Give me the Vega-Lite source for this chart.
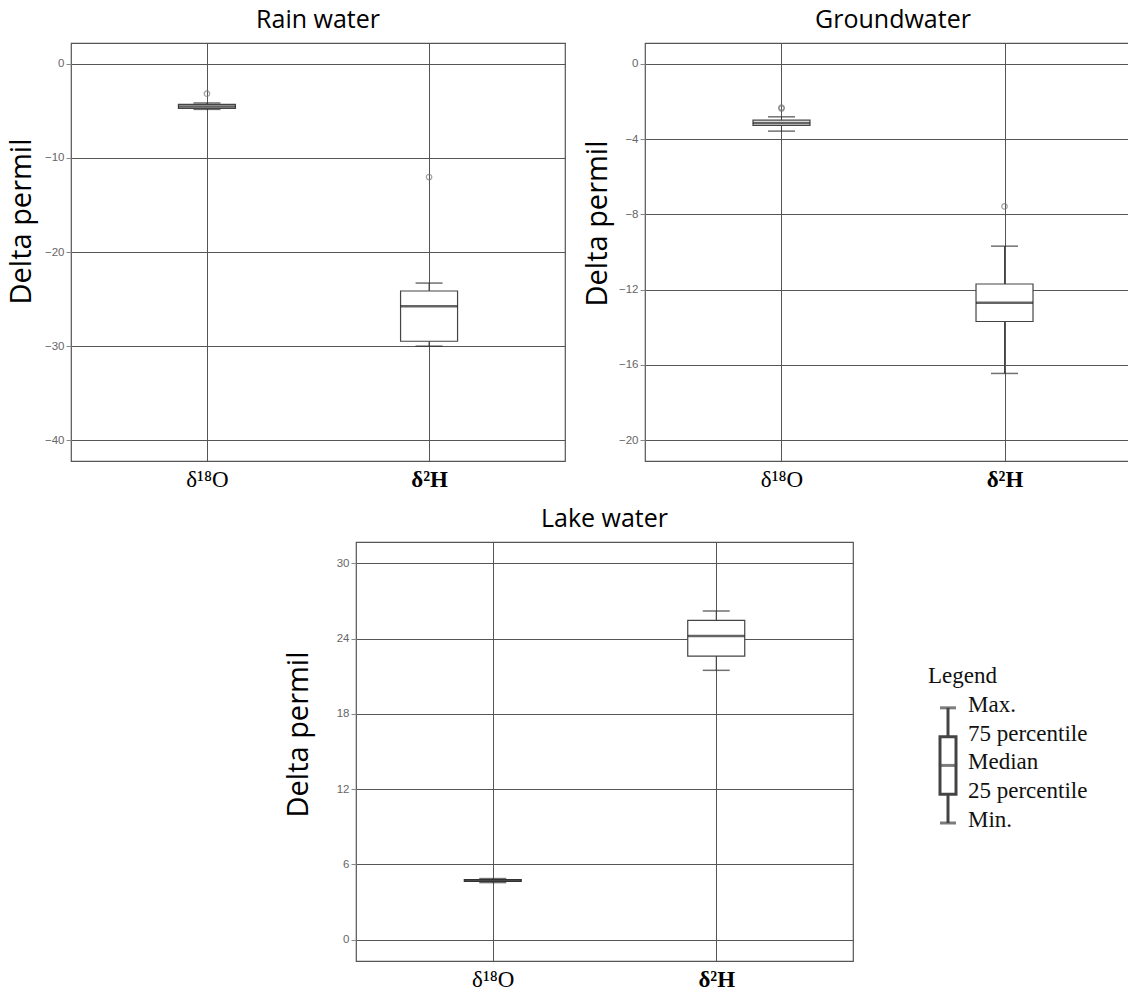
{
  "$schema": "https://vega.github.io/schema/vega-lite/v6.json",
  "background": "white",
  "padding": {"left": 6, "top": 7, "right": 0, "bottom": 0},
  "spacing": 14,
  "config": {
    "view": {"stroke": "#555", "strokeWidth": 1.2},
    "title": {"font": "Open Sans", "fontSize": 25, "fontWeight": "normal", "color": "black", "anchor": "middle", "frame": "group", "baseline": "alphabetic", "offset": 10},
    "axisX": {"title": null, "grid": true, "gridColor": "#555", "gridOpacity": 1, "ticks": false, "domain": false, "labelFont": "Liberation Serif", "labelFontSize": 23, "labelColor": "black", "labelPadding": 7, "labelAngle": 0,
      "labelFontWeight": {"condition": {"test": "datum.value == 'δ²H'", "value": "bold"}, "value": "normal"}},
    "axisY": {"grid": true, "gridColor": "#555", "gridOpacity": 1, "ticks": true, "tickColor": "#888", "tickSize": 5, "domain": false, "labelColor": "#666", "labelFont": "Liberation Sans", "labelFontSize": 11.5, "labelPadding": 2, "titleFont": "Open Sans", "titleFontSize": 29, "titleFontWeight": "normal", "titleColor": "black"}
  },
  "datasets": {
    "rain_box": [
      {"isotope": "δ¹⁸O", "min": -4.85, "q1": -4.75, "median": -4.54, "q3": -4.32, "max": -4.17},
      {"isotope": "δ²H", "min": -30.0, "q1": -29.48, "median": -25.77, "q3": -24.14, "max": -23.3}
    ],
    "rain_out": [
      {"isotope": "δ¹⁸O", "value": -3.18},
      {"isotope": "δ²H", "value": -12.04}
    ],
    "ground_box": [
      {"isotope": "δ¹⁸O", "min": -3.58, "q1": -3.28, "median": -3.15, "q3": -3.0, "max": -2.82},
      {"isotope": "δ²H", "min": -16.45, "q1": -13.69, "median": -12.69, "q3": -11.7, "max": -9.69}
    ],
    "ground_out": [
      {"isotope": "δ¹⁸O", "value": -2.33},
      {"isotope": "δ¹⁸O", "value": -2.38},
      {"isotope": "δ²H", "value": -7.58}
    ],
    "lake_box": [
      {"isotope": "δ¹⁸O", "min": 4.55, "q1": 4.64, "median": 4.71, "q3": 4.78, "max": 4.87},
      {"isotope": "δ²H", "min": 21.47, "q1": 22.61, "median": 24.21, "q3": 25.46, "max": 26.2}
    ],
    "empty": [],
    "legend_glyph": [
      {"part": "glyph", "min": 0, "q1": 1, "median": 2, "q3": 3, "max": 4}
    ],
    "legend_text": [
      {"part": "title", "level": 5, "text": "Legend"},
      {"part": "label", "level": 4, "text": "Max."},
      {"part": "label", "level": 3, "text": "75 percentile"},
      {"part": "label", "level": 2, "text": "Median"},
      {"part": "label", "level": 1, "text": "25 percentile"},
      {"part": "label", "level": 0, "text": "Min."}
    ]
  },
  "vconcat": [
    {
      "spacing": 16,
      "hconcat": [
        {
          "title": "Rain water",
          "width": 494, "height": 418,
          "data": {"name": "rain_box"},
          "encoding": {
            "x": {"field": "isotope", "type": "nominal", "scale": {"type": "point", "padding": 0.612, "domain": ["δ¹⁸O", "δ²H"]}}
          },
          "layer": [
            {"mark": {"type": "rule", "color": "#444", "strokeWidth": 1},
             "encoding": {"y": {"field": "min", "type": "quantitative", "scale": {"domain": [-42.2, 2.2], "nice": false, "zero": false}, "axis": {"values": [0, -10, -20, -30, -40], "title": "Delta permil", "titlePadding": 8, "titleY": 178}}, "y2": {"field": "max"}}},
            {"mark": {"type": "tick", "color": "#333", "size": 27, "thickness": 1.5}, "encoding": {"y": {"field": "min", "type": "quantitative"}}},
            {"mark": {"type": "tick", "color": "#333", "size": 27, "thickness": 1.5}, "encoding": {"y": {"field": "max", "type": "quantitative"}}},
            {"mark": {"type": "bar", "width": 57, "fill": "white", "stroke": "#444", "strokeWidth": 1.2}, "encoding": {"y": {"field": "q1", "type": "quantitative"}, "y2": {"field": "q3"}}},
            {"mark": {"type": "tick", "color": "#222", "size": 57, "thickness": 2.5}, "encoding": {"y": {"field": "median", "type": "quantitative"}}},
            {"data": {"name": "rain_out"}, "mark": {"type": "point", "shape": "circle", "filled": false, "color": "#777", "size": 30, "strokeWidth": 1.2}, "encoding": {"y": {"field": "value", "type": "quantitative"}}}
          ]
        },
        {
          "title": "Groundwater",
          "width": 496, "height": 418,
          "data": {"name": "ground_box"},
          "encoding": {
            "x": {"field": "isotope", "type": "nominal", "scale": {"type": "point", "padding": 0.612, "domain": ["δ¹⁸O", "δ²H"]}}
          },
          "layer": [
            {"mark": {"type": "rule", "color": "#444", "strokeWidth": 1},
             "encoding": {"y": {"field": "min", "type": "quantitative", "scale": {"domain": [-21.1, 1.1], "nice": false, "zero": false}, "axis": {"values": [0, -4, -8, -12, -16, -20], "title": "Delta permil", "titlePadding": 6, "titleY": 180}}, "y2": {"field": "max"}}},
            {"mark": {"type": "tick", "color": "#333", "size": 27, "thickness": 1.5}, "encoding": {"y": {"field": "min", "type": "quantitative"}}},
            {"mark": {"type": "tick", "color": "#333", "size": 27, "thickness": 1.5}, "encoding": {"y": {"field": "max", "type": "quantitative"}}},
            {"mark": {"type": "bar", "width": 57, "fill": "white", "stroke": "#444", "strokeWidth": 1.2}, "encoding": {"y": {"field": "q1", "type": "quantitative"}, "y2": {"field": "q3"}}},
            {"mark": {"type": "tick", "color": "#222", "size": 57, "thickness": 2.5}, "encoding": {"y": {"field": "median", "type": "quantitative"}}},
            {"data": {"name": "ground_out"}, "mark": {"type": "point", "shape": "circle", "filled": false, "color": "#777", "size": 30, "strokeWidth": 1.2}, "encoding": {"y": {"field": "value", "type": "quantitative"}}}
          ]
        }
      ]
    },
    {
      "spacing": 74,
      "hconcat": [
        {
          "width": 138, "height": 10,
          "view": {"stroke": null},
          "data": {"name": "empty"},
          "mark": "point",
          "encoding": {}
        },
        {
          "title": "Lake water",
          "width": 497, "height": 419,
          "data": {"name": "lake_box"},
          "encoding": {
            "x": {"field": "isotope", "type": "nominal", "scale": {"type": "point", "padding": 0.612, "domain": ["δ¹⁸O", "δ²H"]}}
          },
          "layer": [
            {"mark": {"type": "rule", "color": "#444", "strokeWidth": 1},
             "encoding": {"y": {"field": "min", "type": "quantitative", "scale": {"domain": [-1.7, 31.7], "nice": false, "zero": false}, "axis": {"values": [0, 6, 12, 18, 24, 30], "title": "Delta permil", "titlePadding": 23, "titleY": 192}}, "y2": {"field": "max"}}},
            {"mark": {"type": "tick", "color": "#333", "size": 27, "thickness": 1.5}, "encoding": {"y": {"field": "min", "type": "quantitative"}}},
            {"mark": {"type": "tick", "color": "#333", "size": 27, "thickness": 1.5}, "encoding": {"y": {"field": "max", "type": "quantitative"}}},
            {"mark": {"type": "bar", "width": 57, "fill": "white", "stroke": "#444", "strokeWidth": 1.2}, "encoding": {"y": {"field": "q1", "type": "quantitative"}, "y2": {"field": "q3"}}},
            {"mark": {"type": "tick", "color": "#222", "size": 57, "thickness": 2.5}, "encoding": {"y": {"field": "median", "type": "quantitative"}}}
          ]
        },
        {
          "width": 40, "height": 281,
          "view": {"stroke": null},
          "encoding": {
            "x": {"field": "part", "type": "nominal", "scale": {"type": "point", "padding": 0, "domain": ["title", "glyph", "label"]}, "axis": null}
          },
          "layer": [
            {"data": {"name": "legend_glyph"}, "mark": {"type": "rule", "color": "#444", "strokeWidth": 3},
             "encoding": {"y": {"field": "min", "type": "quantitative", "scale": {"domain": [0, 9.76], "nice": false}, "axis": null}, "y2": {"field": "max"}}},
            {"data": {"name": "legend_glyph"}, "mark": {"type": "tick", "color": "#444", "size": 16, "thickness": 3}, "encoding": {"y": {"field": "min", "type": "quantitative"}}},
            {"data": {"name": "legend_glyph"}, "mark": {"type": "tick", "color": "#444", "size": 16, "thickness": 3}, "encoding": {"y": {"field": "max", "type": "quantitative"}}},
            {"data": {"name": "legend_glyph"}, "mark": {"type": "bar", "width": 16, "fill": "white", "stroke": "#444", "strokeWidth": 3}, "encoding": {"y": {"field": "q1", "type": "quantitative"}, "y2": {"field": "q3"}}},
            {"data": {"name": "legend_glyph"}, "mark": {"type": "tick", "color": "#444", "size": 16, "thickness": 3}, "encoding": {"y": {"field": "median", "type": "quantitative"}}},
            {"data": {"name": "legend_text"}, "mark": {"type": "text", "font": "Liberation Serif", "fontSize": 23, "color": "#111", "align": "left", "baseline": "middle", "dy": -3}, "encoding": {"y": {"field": "level", "type": "quantitative"}, "text": {"field": "text"}}}
          ]
        }
      ]
    }
  ]
}
